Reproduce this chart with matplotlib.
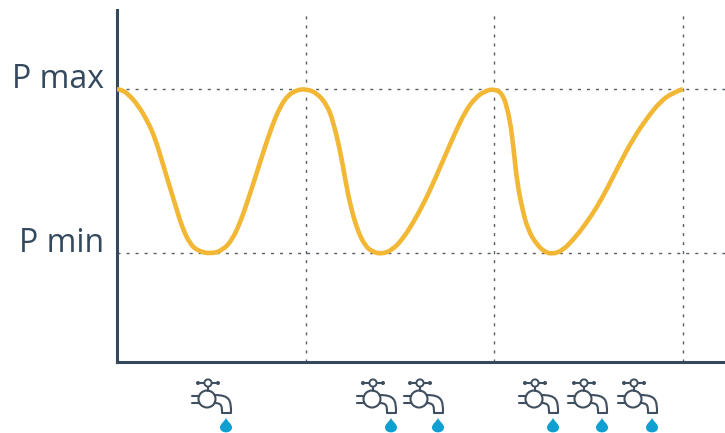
import matplotlib
matplotlib.use('Agg')
from matplotlib import pyplot as plt
from matplotlib.patches import Circle, PathPatch
from matplotlib.path import Path

# one unit on both axes is one pixel of the figure
time = [0, 5, 11, 21, 31, 38, 45, 51, 58, 65, 73, 81, 94,
        106, 115, 123, 131, 140, 146, 155, 163, 171, 180, 189,
        200, 210, 216, 223, 228, 233, 240, 248, 256, 265,
        275, 285, 296, 308, 318, 328, 338, 348, 358, 368, 377,
        385, 390, 394, 397, 400, 405, 411, 420, 428, 435,
        445, 456, 468, 480, 491, 503, 516, 530, 543, 555, 566]
pressure = [273, 272, 268, 257, 240, 224, 201, 181, 158, 135, 118, 111, 108,
            112, 122, 139, 162, 190, 209, 236, 255, 267, 272, 273,
            269, 257, 241, 212, 184, 158, 133, 116, 110, 108,
            112, 122, 139, 161, 183, 206, 229, 250, 264, 271, 273,
            269, 255, 235, 209, 181, 154, 132, 117, 110, 108,
            111, 122, 137, 155, 175, 199, 223, 244, 260, 269, 273]
p_max = 273
p_min = 109
cycle_ends = [189, 377, 566]
tap_drops = [109, 274, 321, 436, 485, 535]
labels = ['P max', 'P min']

DARK = '#34495e'
ICON = '#3f4f5f'
YELLOW = '#f3b736'
BLUE = '#0f9fd0'
GREY = '#555f66'


def smooth_path(xs, ys):
    # read points act as quadratic control points, the curve goes through the midpoints
    verts = [(xs[0], ys[0])]
    codes = [Path.MOVETO]
    for i in range(1, len(xs) - 1):
        if i < len(xs) - 2:
            end = ((xs[i] + xs[i + 1]) / 2, (ys[i] + ys[i + 1]) / 2)
        else:
            end = (xs[-1], ys[-1])
        verts += [(xs[i], ys[i]), end]
        codes += [Path.CURVE3, Path.CURVE3]
    return Path(verts, codes)


def draw_tap(ax, x):
    # x is where the drop falls, the rest of the tap hangs off it
    def line(xs, ys):
        ax.plot([x + v for v in xs], ys, color=ICON, lw=1.5, clip_on=False, solid_capstyle='round')

    line([-26, -9], [-21, -21])
    line([-18, -18], [-25, -29])
    for dx in (-28, -8):
        ax.add_patch(Circle((x + dx, -21), 1.3, color=ICON, clip_on=False))
    ax.add_patch(Circle((x - 18, -21), 3.6, fc='white', ec=ICON, lw=1.4, clip_on=False, zorder=3))
    ax.add_patch(Circle((x - 19, -37), 8.5, fc='none', ec=ICON, lw=1.5, clip_on=False))
    line([-34, -27], [-34, -34])
    line([-34, -27], [-41, -41])
    outer = Path([(x - 12, -33), (x + 4, -33), (x + 5, -38), (x + 5, -51)],
                 [Path.MOVETO, Path.CURVE4, Path.CURVE4, Path.CURVE4])
    inner = Path([(x - 12, -41), (x - 4, -41), (x - 4, -44), (x - 4, -51)],
                 [Path.MOVETO, Path.CURVE4, Path.CURVE4, Path.CURVE4])
    for p in (outer, inner):
        ax.add_patch(PathPatch(p, fc='none', ec=ICON, lw=1.5, clip_on=False))
    line([-4, 5], [-51, -51])
    drop = Path([(x, -56), (x - 2, -60), (x - 6, -62), (x - 6, -65.5),
                 (x - 6, -72), (x + 6, -72), (x + 6, -65.5),
                 (x + 6, -62), (x + 2, -60), (x, -56)],
                [Path.MOVETO] + [Path.CURVE4] * 9)
    ax.add_patch(PathPatch(drop, fc=BLUE, ec='none', clip_on=False))


fig = plt.figure(figsize=(7.25, 4.33), dpi=100)
ax = fig.add_axes([117 / 725, 71 / 433, 608 / 725, 352 / 433])
ax.set_xlim(0, 608)
ax.set_ylim(0, 352)

for s in ('top', 'right'):
    ax.spines[s].set_visible(False)
for s in ('left', 'bottom'):
    ax.spines[s].set_color(DARK)
    ax.spines[s].set_linewidth(2.2)
ax.set_xticks([])
ax.set_yticks([])

dots = (0, (2.2, 4.3))
for level in (p_max, p_min):
    ax.axhline(level, color=GREY, lw=1, ls=dots, zorder=1)
for x in cycle_ends:
    ax.axvline(x, color=GREY, lw=1, ls=dots, zorder=1)

ax.add_patch(PathPatch(smooth_path(time, pressure), fc='none', ec=YELLOW, lw=3.3, zorder=4))

for text, level in zip(labels, (p_max, p_min)):
    ax.text(-13, level + 9, text, ha='right', va='center', fontsize=23, color=DARK,
            family='Open Sans', clip_on=False)

for x in tap_drops:
    draw_tap(ax, x)

fig.savefig('out.png', dpi=100)
